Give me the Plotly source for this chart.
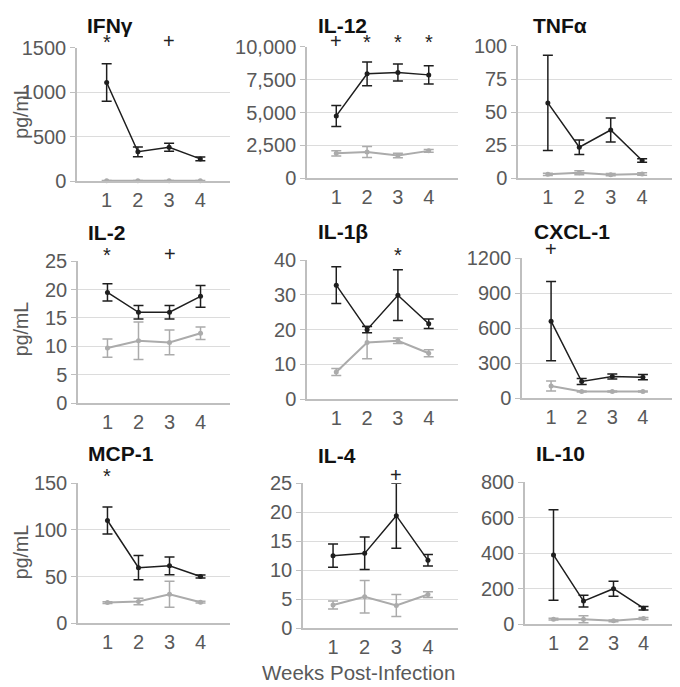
import plotly.graph_objects as go

# Colours
DARK = "#1e1e1e"
LIGHT = "#ababab"
AXIS = "#bfbfbf"
GRID = "#dcdcdc"
TICK = "#595959"
FONT = "Liberation Sans, Arial, sans-serif"

# figure size; the page shows it from (8, 18) and shrinks it vertically a little
FW, FH = 664, 682
OX = 8
TOP, VSCALE = 17.9, 0.9676

WEEKS = [1, 2, 3, 4]

# infected (dark) / control (light) means and error bars
IFNG_INF = [1110, 330, 380, 250]
IFNG_INF_ERR = [210, 55, 45, 20]
IFNG_CTL = [5, 5, 5, 5]
IFNG_CTL_ERR = [3, 3, 3, 3]
IFNG_SIG = ["*", "", "+", ""]

IL12_INF = [4750, 7950, 8050, 7870]
IL12_INF_ERR = [800, 900, 650, 700]
IL12_CTL = [1900, 2000, 1730, 2090]
IL12_CTL_ERR = [200, 420, 170, 100]
IL12_SIG = ["+", "*", "*", "*"]

TNFA_INF = [57, 23.5, 36.5, 13.5]
TNFA_INF_ERR = [36, 5.5, 9, 1.3]
TNFA_CTL = [3.0, 4.2, 2.8, 3.3]
TNFA_CTL_ERR = [0.8, 1.5, 0.8, 1.0]
TNFA_SIG = ["", "", "", ""]

IL2_INF = [19.5, 16.0, 16.0, 18.8]
IL2_INF_ERR = [1.5, 1.2, 1.2, 1.9]
IL2_CTL = [9.7, 11.0, 10.7, 12.3]
IL2_CTL_ERR = [1.6, 3.3, 2.2, 1.1]
IL2_SIG = ["*", "", "+", ""]

IL1B_INF = [32.8, 20.0, 29.9, 21.7]
IL1B_INF_ERR = [5.3, 0.9, 7.3, 1.4]
IL1B_CTL = [7.8, 16.3, 16.8, 13.2]
IL1B_CTL_ERR = [1.0, 4.7, 0.8, 1.0]
IL1B_SIG = ["", "", "*", ""]

CXCL1_INF = [660, 143, 186, 180]
CXCL1_INF_ERR = [340, 25, 22, 22]
CXCL1_CTL = [105, 57, 57, 57]
CXCL1_CTL_ERR = [43, 5, 5, 5]
CXCL1_SIG = ["+", "", "", ""]

MCP1_INF = [110, 59.5, 61.5, 50]
MCP1_INF_ERR = [14.5, 13, 9.5, 1.5]
MCP1_CTL = [22.1, 23.2, 31, 22.5]
MCP1_CTL_ERR = [1.0, 3.5, 14, 1.0]
MCP1_SIG = ["*", "", "", ""]

IL4_INF = [12.5, 12.9, 19.4, 11.7]
IL4_INF_ERR = [2.0, 2.8, 5.6, 1.0]
IL4_CTL = [4.0, 5.4, 3.9, 5.8]
IL4_CTL_ERR = [0.7, 2.8, 1.9, 0.5]
IL4_SIG = ["", "", "+", ""]

IL10_INF = [390, 130, 200, 90]
IL10_INF_ERR = [255, 33, 42, 10]
IL10_CTL = [28, 28, 19, 32]
IL10_CTL_ERR = [5, 20, 5, 5]
IL10_SIG = ["", "", "", ""]

TITLES = ["IFNγ", "IL-12", "TNFα", "IL-2", "IL-1β", "CXCL-1", "MCP-1", "IL-4", "IL-10"]
Y_MAX = [1500, 10000, 100, 25, 40, 1200, 150, 25, 800]
Y_STEP = [500, 2500, 25, 5, 10, 300, 50, 5, 200]

panels = [
    (IFNG_INF, IFNG_INF_ERR, IFNG_CTL, IFNG_CTL_ERR, IFNG_SIG),
    (IL12_INF, IL12_INF_ERR, IL12_CTL, IL12_CTL_ERR, IL12_SIG),
    (TNFA_INF, TNFA_INF_ERR, TNFA_CTL, TNFA_CTL_ERR, TNFA_SIG),
    (IL2_INF, IL2_INF_ERR, IL2_CTL, IL2_CTL_ERR, IL2_SIG),
    (IL1B_INF, IL1B_INF_ERR, IL1B_CTL, IL1B_CTL_ERR, IL1B_SIG),
    (CXCL1_INF, CXCL1_INF_ERR, CXCL1_CTL, CXCL1_CTL_ERR, CXCL1_SIG),
    (MCP1_INF, MCP1_INF_ERR, MCP1_CTL, MCP1_CTL_ERR, MCP1_SIG),
    (IL4_INF, IL4_INF_ERR, IL4_CTL, IL4_CTL_ERR, IL4_SIG),
    (IL10_INF, IL10_INF_ERR, IL10_CTL, IL10_CTL_ERR, IL10_SIG),
]

# plot boxes in reference pixels: left, right, top (max gridline), bottom (zero line)
BOXES = [
    (77, 230, 36, 180), (307, 458, 35, 177), (518, 672, 34, 177),
    (78, 230, 260, 402), (307, 458, 259, 398), (522, 672, 257, 397),
    (78, 230, 482, 622), (303, 458, 482, 627), (525, 672, 481, 623),
]
# title centres in reference pixels
TITLE_POS = [(110, 12), (343, 12), (560, 12), (106, 231), (343, 230), (572, 230),
             (121, 452), (337, 454), (560, 452)]
SIG_Y = [29, 29, 29, 253, 253, 248, 474, 474, 474]


def px_x(p):
    return (p - OX) / FW


def px_y(p):
    # squeeze the strip above row 1 and below row 3 so they fit in the page
    if p < 180:
        t = 18 + (p - 5) * 162 / 175
    elif p > 640:
        t = 640 + (p - 640) * 39 / 45
    else:
        t = p
    return 1 - ((t - TOP) / VSCALE) / FH


fig = go.Figure()
layout = dict(
    width=FW, height=FH,
    margin=dict(l=0, r=0, t=0, b=0),
    paper_bgcolor="white", plot_bgcolor="white",
    font=dict(family=FONT, color=TICK, size=20),
    showlegend=False,
)
annotations = []

for i, (inf, inf_err, ctl, ctl_err, sig) in enumerate(panels):
    n = i + 1
    xa, ya = f"x{n}", f"y{n}"
    left, right, top, bottom = BOXES[i]

    fig.add_trace(go.Scatter(
        x=WEEKS, y=ctl, xaxis=xa, yaxis=ya, mode="lines+markers",
        line=dict(color=LIGHT, width=2), marker=dict(size=5, color=LIGHT),
        error_y=dict(type="data", array=ctl_err, color=LIGHT, thickness=1.5, width=5),
        cliponaxis=False,
    ))
    fig.add_trace(go.Scatter(
        x=WEEKS, y=inf, xaxis=xa, yaxis=ya, mode="lines+markers",
        line=dict(color=DARK, width=1.5), marker=dict(size=5, color=DARK),
        error_y=dict(type="data", array=inf_err, color=DARK, thickness=1.5, width=5),
        cliponaxis=False,
    ))

    layout[f"xaxis{n}"] = dict(
        domain=[px_x(left), px_x(right)], anchor=ya, range=[0.05, 4.95],
        tickvals=WEEKS, ticktext=[str(w) for w in WEEKS], ticks="",
        showgrid=False, zeroline=False, showline=True, linecolor=AXIS, linewidth=1.5,
        tickfont=dict(size=20, color=TICK), fixedrange=True,
    )
    layout[f"yaxis{n}"] = dict(
        domain=[px_y(bottom), px_y(top)], anchor=xa, range=[0, Y_MAX[i]],
        dtick=Y_STEP[i], tick0=0, tickformat=",d" if Y_MAX[i] >= 10000 else "d",
        showgrid=True, gridcolor=GRID, gridwidth=1, zeroline=False,
        showline=True, linecolor=AXIS, linewidth=1.5,
        ticks="outside", ticklen=5, tickcolor=AXIS,
        tickfont=dict(size=20, color=TICK), fixedrange=True,
    )

    tx, ty = TITLE_POS[i]
    annotations.append(dict(
        text=f"<b>{TITLES[i]}</b>", xref="paper", yref="paper",
        x=px_x(tx), y=px_y(ty), xanchor="center", yanchor="middle",
        showarrow=False, font=dict(size=21, color="#111111", family=FONT),
    ))
    for w, s in zip(WEEKS, sig):
        if s:
            annotations.append(dict(
                text=s, xref=xa, yref="paper", x=w, y=px_y(SIG_Y[i] + (1 if s == "*" else 0)),
                xanchor="center", yanchor="middle", showarrow=False,
                font=dict(size=20, color="#222222", family=FONT),
            ))

for cy in [105, 328, 551]:
    annotations.append(dict(
        text="pg/mL", xref="paper", yref="paper", x=px_x(21), y=px_y(cy),
        xanchor="center", yanchor="middle", textangle=-90, showarrow=False,
        font=dict(size=19.5, color=TICK, family=FONT),
    ))

annotations.append(dict(
    text="Weeks Post-Infection", xref="paper", yref="paper", x=px_x(358), y=px_y(676),
    xanchor="center", yanchor="middle", showarrow=False,
    font=dict(size=20.5, color=TICK, family=FONT),
))

layout["annotations"] = annotations
fig.update_layout(**layout)
fig.write_html("out.html")
